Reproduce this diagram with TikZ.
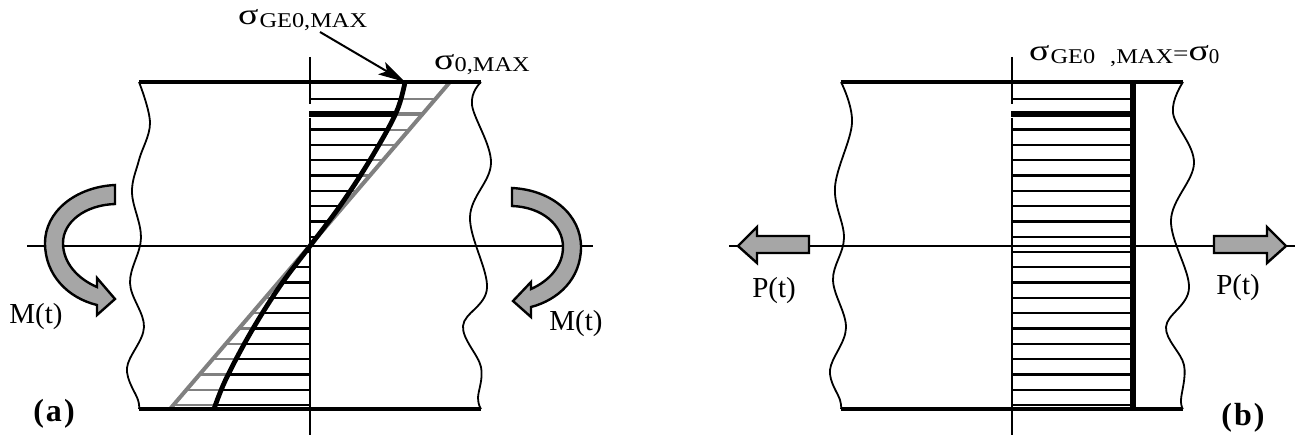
\documentclass[tikz,border=0pt]{standalone}
\usepackage{fontspec}
\usepackage{graphicx}
\setmainfont{Liberation Serif}
\usetikzlibrary{arrows.meta}
\definecolor{arrowgray}{HTML}{A6A6A6}
\definecolor{stressgray}{HTML}{808080}
\newcommand{\sgm}{\raisebox{3pt}{\scalebox{1.8}[1.4]{σ}}}
\newcommand{\wid}[1]{\scalebox{1.16}[1]{#1}}
\tikzset{
  edge/.style={line width=3.6pt,black},
  axis/.style={line width=2.2pt,black},
  axisv/.style={line width=2.6pt,black},
  wave/.style={line width=1.8pt,black,smooth,tension=0.6},
  hatch/.style={line width=2.3pt,black},
  hatchthick/.style={line width=5.5pt,black},
  ghatch/.style={line width=2.2pt,stressgray},
  ghatchthick/.style={line width=3.4pt,stressgray},
  force/.style={draw=black,fill=arrowgray,line width=2.4pt,line join=miter},
  big/.style={inner sep=0pt,font=\fontsize{29}{30}\selectfont},
  small/.style={inner sep=0pt,anchor=base west,font=\fontsize{21}{23}\selectfont},
  tag/.style={inner sep=0pt,font=\fontsize{32}{34}\selectfont\bfseries}
}
\newcommand{\curvepts}{(405,82)(396,113)(370,160)(340,206)(310,246)(280,286)(251,332)(226,379)(214,409)}
\begin{document}
\begin{tikzpicture}[x=1pt,y=-1pt]
\useasboundingbox (0,0) rectangle (1301,436);
% ---------- panel (a)
\coordinate (peak) at (405,82);
\coordinate (ptr) at (320,32);
\draw[axis] (27,246) -- (593,246);
\foreach \k in {0,2,3,...,20}{
  \pgfmathsetmacro{\yy}{99+15.3*\k}
  \pgfmathsetmacro{\xx}{310+(246-\yy)*0.8537}
  \draw[ghatch] (310,\yy) -- (\xx,\yy);
}
\draw[ghatchthick] (310,114) -- (424,114);
\begin{scope}
  \clip (310,82) -- plot[smooth,tension=0.6] coordinates {\curvepts} -- (310,409) -- cycle;
  \foreach \k in {0,2,3,...,20}{
    \pgfmathsetmacro{\yy}{99+15.3*\k}
    \draw[hatch] (300,\yy) -- (420,\yy);
    \draw[hatch] (200,\yy) -- (310,\yy);
  }
  \draw[hatchthick] (309,114) -- (420,114);
\end{scope}
\draw[hatchthick] (309,114) -- (320,114);
\draw[line width=4pt,stressgray] (450,82) -- (170,409);
\draw[line width=4.8pt,black] plot[smooth,tension=0.6] coordinates {\curvepts};
\draw[edge] (139,82) -- (481,82);
\draw[edge] (139,409) -- (481,409);
\draw[axisv] (310,57) -- (310,104);
\draw[axisv] (310,117.5) -- (310,435);
\draw[wave] plot coordinates {(139,82)(150,123)(139,160)(132,193)(141,238)(130,283)(144,327)(127,368)(138,400)(139,409)};
\draw[wave] plot coordinates {(481,82)(472,105)(491,163)(470,217)(487,288)(463,326)(481,367)(478,398)(481,409)};
\draw[force] (115,185) .. controls (75,187) and (45,212) .. (45,243)
  .. controls (45,275) and (68,298) .. (97,305) -- (97,315) -- (115,299) -- (97,278) -- (97,287)
  .. controls (78,279) and (63,263) .. (63,243) .. controls (63,222) and (85,205) .. (115,204) -- cycle;
\draw[force] (512,188) .. controls (552,190) and (581,215) .. (581,247)
  .. controls (581,279) and (558,300) .. (531,307) -- (531,317) -- (513,301) -- (531,282) -- (531,289)
  .. controls (549,281) and (563,266) .. (563,247) .. controls (563,225) and (542,207) .. (512,206) -- cycle;
\draw[line width=2pt,-{Stealth[length=27pt,width=14pt,inset=6pt]}] (ptr) -- (peak);
\node[small] (sigmaGE) at (238,27.5) {\sgm\hspace{1pt}\wid{GE0,MAX}};
\node[small] (sigmaO) at (434,72) {\sgm\hspace{0pt}\wid{0,MAX}};
\node[big] (ml) at (36,323) [anchor=base] {M(t)};
\node[big] (mr) at (576,330) [anchor=base] {M(t)};
\node[tag] (a) at (54,414) {(\hspace{2pt}a\hspace{2pt})};
% ---------- panel (b)
\draw[axis] (729,246) -- (1295,246);
\foreach \k in {0,2,3,...,20}{
  \pgfmathsetmacro{\yy}{99+15.3*\k}
  \draw[hatch] (1012,\yy) -- (1133,\yy);
}
\draw[hatchthick] (1011,114) -- (1133,114);
\draw[edge] (841,82) -- (1183,82);
\draw[edge] (841,409) -- (1183,409);
\draw[axisv] (1012,57) -- (1012,104);
\draw[axisv] (1012,117.5) -- (1012,435);
\draw[line width=5.2pt,black] (1133,82) -- (1133,410);
\draw[wave] plot coordinates {(841,82)(852,123)(835,187)(844,238)(833,280)(846,328)(830,370)(840,400)(841,409)};
\draw[wave] plot coordinates {(1183,82)(1173,113)(1194,163)(1171,220)(1189,288)(1166,327)(1184,365)(1181,400)(1183,409)};
\draw[force] (738,246) -- (757,227) -- (757,236) -- (809,236) -- (809,253) -- (757,253) -- (757,263) -- cycle;
\draw[force] (1214,236) -- (1267,236) -- (1267,227) -- (1286,246) -- (1267,263) -- (1267,253) -- (1214,253) -- cycle;
\node[small] (sigmab) at (1029,63.5) {\sgm\hspace{1pt}\wid{GE0}\hspace{15pt}\wid{,MAX}\raisebox{3pt}{\scalebox{1.3}[1]{=}}\sgm\hspace{0pt}0};
\node[big] (pl) at (774,297) [anchor=base] {P(t)};
\node[big] (pr) at (1238,294) [anchor=base] {P(t)};
\node[tag] (b) at (1243,418) {(\hspace{2pt}b\hspace{2pt})};
\end{tikzpicture}
\end{document}
